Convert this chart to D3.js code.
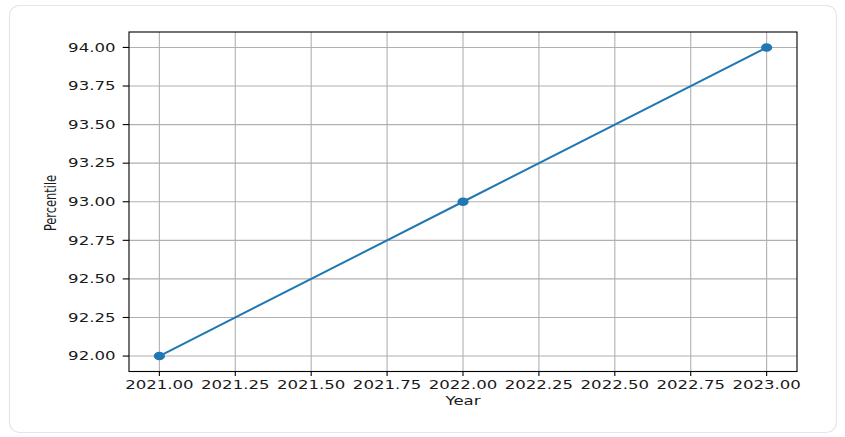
<!DOCTYPE html>
<html><head><meta charset="utf-8">
<script src="https://cdn.jsdelivr.net/npm/d3@7"></script>
<style>
html,body{margin:0;padding:0;background:#fff;}
svg{display:block;}
text{font-family:"DejaVu Sans",sans-serif;fill:#1a1a1a;}
</style></head>
<body>
<svg id="c" width="845" height="437"></svg>
<script>
const years = [2021, 2022, 2023];
const percentiles = [92, 93, 94];
const xTicks = [2021.00, 2021.25, 2021.50, 2021.75, 2022.00, 2022.25, 2022.50, 2022.75, 2023.00];
const yTicks = [92.00, 92.25, 92.50, 92.75, 93.00, 93.25, 93.50, 93.75, 94.00];
const xLabel = "Year";
const yLabel = "Percentile";

const svg = d3.select("#c");
const SX = 1.38; // horizontal stretch of text in reference

svg.append("rect").attr("x",9.5).attr("y",5.5).attr("width",827).attr("height",427)
  .attr("rx",10).attr("fill","#fff").attr("stroke","#e6e6e6").attr("stroke-width",1.2);

const L=129, R=797, T=32, B=371.5;
const x = d3.scaleLinear().domain([2021-0.1, 2023+0.1]).range([L,R]);
const y = d3.scaleLinear().domain([92-0.1, 94+0.1]).range([B,T]);

const g = svg.append("g");
// grid
g.selectAll(".gx").data(xTicks).join("line")
  .attr("x1",d=>x(d)).attr("x2",d=>x(d)).attr("y1",T).attr("y2",B)
  .attr("stroke","#b0b0b0").attr("stroke-width",1.1);
g.selectAll(".gy").data(yTicks).join("line")
  .attr("y1",d=>y(d)).attr("y2",d=>y(d)).attr("x1",L).attr("x2",R)
  .attr("stroke","#b0b0b0").attr("stroke-width",1.1);

// line
const pts = years.map((d,i)=>[d, percentiles[i]]);
g.append("path").datum(pts)
  .attr("d", d3.line().x(d=>x(d[0])).y(d=>y(d[1])))
  .attr("fill","none").attr("stroke","#1f77b4").attr("stroke-width",2);
g.selectAll(".m").data(pts).join("ellipse")
  .attr("cx",d=>x(d[0])).attr("cy",d=>y(d[1])).attr("rx",5.6).attr("ry",4.3)
  .attr("fill","#1f77b4");

// spines
g.append("rect").attr("x",L).attr("y",T).attr("width",R-L).attr("height",B-T)
  .attr("fill","none").attr("stroke","#000").attr("stroke-width",1.1);

// ticks
g.selectAll(".tx").data(xTicks).join("line")
  .attr("x1",d=>x(d)).attr("x2",d=>x(d)).attr("y1",B).attr("y2",B+4.5)
  .attr("stroke","#000").attr("stroke-width",1.1);
g.selectAll(".ty").data(yTicks).join("line")
  .attr("y1",d=>y(d)).attr("y2",d=>y(d)).attr("x1",L-6.3).attr("x2",L)
  .attr("stroke","#000").attr("stroke-width",1.1);

g.selectAll(".lx").data(xTicks).join("text")
  .attr("transform",d=>`translate(${x(d)},${388.5}) scale(${SX},1)`)
  .attr("text-anchor","middle").attr("font-size",12)
  .text(d=>d3.format(".2f")(d));
g.selectAll(".ly").data(yTicks).join("text")
  .attr("transform",d=>`translate(115.5,${y(d)+4.3}) scale(${SX},1)`)
  .attr("text-anchor","end").attr("font-size",12)
  .text(d=>d3.format(".2f")(d));

svg.append("text")
  .attr("transform",`translate(${(L+R)/2},404.5) scale(${SX},1)`)
  .attr("text-anchor","middle").attr("font-size",12).text(xLabel);
svg.append("text")
  .attr("transform",`translate(55.5,203) scale(1.3,0.95) rotate(-90)`)
  .attr("text-anchor","middle").attr("font-size",12).text(yLabel);
</script>
</body></html>
